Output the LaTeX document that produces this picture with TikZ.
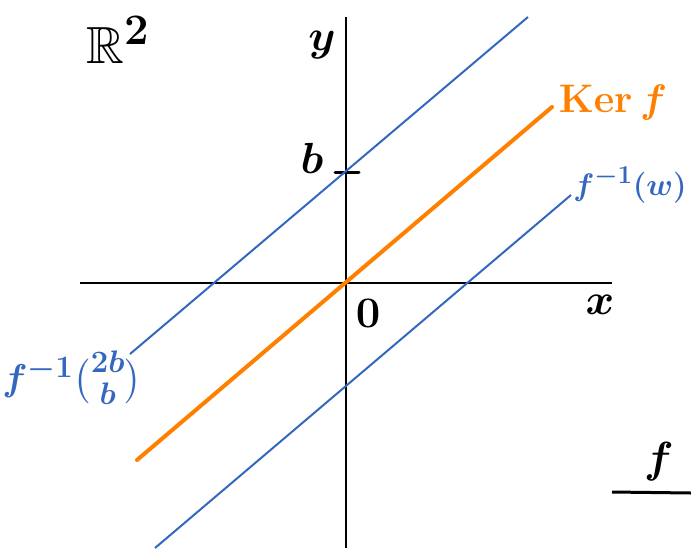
\documentclass[tikz,border=0pt]{standalone}
\usepackage{graphicx}
\usepackage{amsmath,amssymb}
\definecolor{lineblue}{RGB}{52,103,192}
\definecolor{kerorange}{RGB}{255,128,0}
\newcommand{\biglab}[2][1.75]{\scalebox{#1}{#2}}
\begin{document}
\begin{tikzpicture}[x=1pt,y=-1pt,
  axis/.style={line width=2.4pt,black},
  fiber/.style={line width=2pt,lineblue},
  kernel/.style={line width=4pt,kerorange,line cap=round},
  lbl/.style={font=\Huge\boldmath,inner sep=0pt},
  blbl/.style={lbl,text=lineblue},
  olbl/.style={lbl,text=kerorange}]
\useasboundingbox (0,0) rectangle (691,550);
% axes
\coordinate (xl) at (80,283);
\coordinate (xr) at (612,283);
\coordinate (yt) at (346,17);
\coordinate (yb) at (346,548);
\draw[axis] (xl) -- (xr);
\draw[axis] (yb) -- (yt);
% b tick
\coordinate (bl) at (335,172);
\coordinate (br) at (359,172);
\draw[line width=3pt,line cap=round] (bl) -- (br);
% lines
\coordinate (u1) at (130,354);
\coordinate (u2) at (528,17);
\coordinate (k1) at (137,460);
\coordinate (k2) at (552,107);
\coordinate (w1) at (155,548);
\coordinate (w2) at (571,195);
\draw[fiber] (u1) -- (u2);
\draw[kernel] (k1) -- (k2);
\draw[fiber] (w1) -- (w2);
% labels
\node[lbl] (R2) at (118,40) {\biglab[2.1]{$\mathbb{R}^2$}};
\node[lbl] (ylab) at (322,45) {\biglab{$y$}};
\node[lbl] (blab) at (312,158) {\biglab{$b$}};
\node[lbl] (olab) at (368,313) {\biglab{$0$}};
\node[lbl] (xlab) at (600,305) {\biglab{$x$}};
\node[olbl] (kerlab) at (613,103) {\biglab[1.6]{$\mathbf{Ker}\,f$}};
\node[blbl] (wlab) at (630,185) {\biglab[1.25]{$f^{-1}(w)$}};
\node[blbl] (blab2) at (72,378) {\biglab[1.5]{$f^{-1}\binom{2b}{b}$}};
\node[lbl] (flab) at (659,462) {\biglab{$f$}};
\coordinate (fl) at (612,492);
\coordinate (fr) at (691,493);
\draw[line width=3pt] (fl) -- (fr);
\end{tikzpicture}
\end{document}
